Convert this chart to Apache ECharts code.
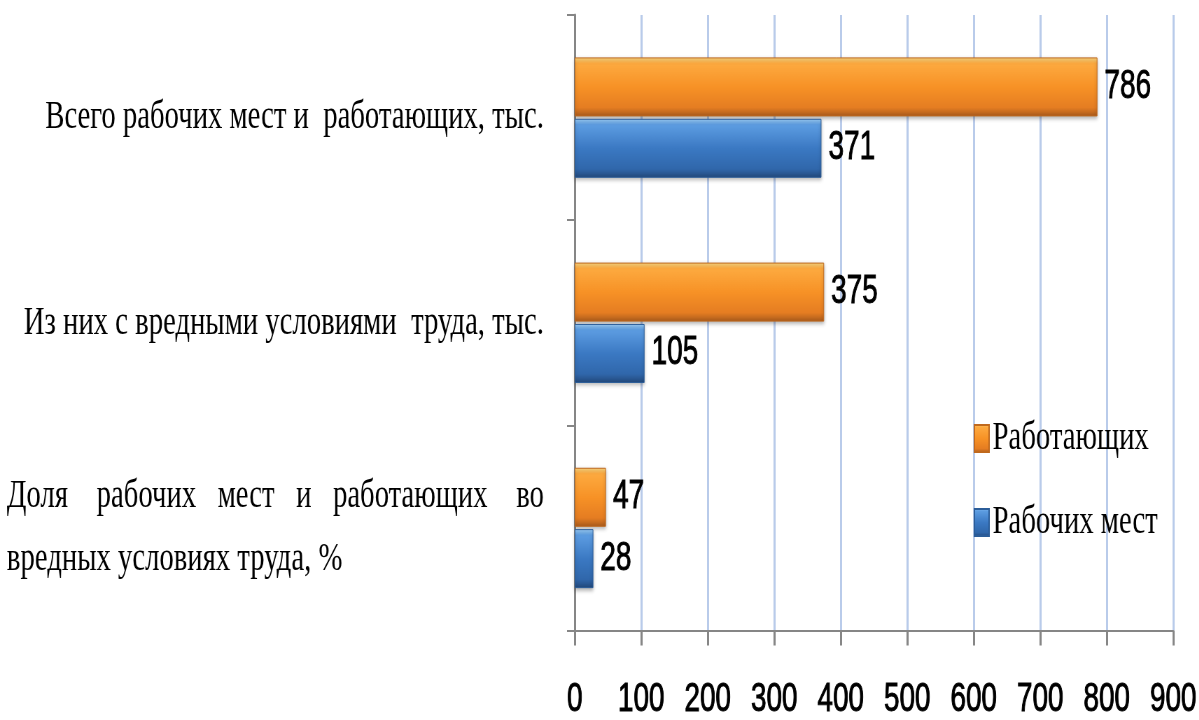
<!DOCTYPE html>
<html>
<head>
<meta charset="utf-8">
<title>Рабочие места с вредными условиями труда</title>
<script src="https://cdn.jsdelivr.net/npm/echarts@6.0.0/dist/echarts.min.js"></script>
<style>
  html, body { margin: 0; padding: 0; background: #fff; overflow: hidden; }
  /* исходная картинка сжата по горизонтали, поэтому рисуем шире и сжимаем */
  #chart {
    width: 1713px;
    height: 720px;
    transform: scaleX(0.7);
    transform-origin: 0 0;
  }
</style>
</head>
<body>
<div id="chart"></div>
<script>
// категории сверху вниз
const categories = [
  'Всего рабочих мест и  работающих, тыс.',
  'Из них с вредными условиями  труда, тыс.',
  'Доля    рабочих   мест   и   работающих    во\nвредных условиях труда, %'
]
const seriesNames = ['Работающих', 'Рабочих мест']
const workers = [786, 375, 47]
const workplaces = [371, 105, 28]
const xTicks = { min: 0, max: 900, interval: 100 }

const serifFont = '"Liberation Serif", "DejaVu Serif", serif'
const numFont = '"Liberation Sans Narrow", "Liberation Sans", Arial, sans-serif'

const orangeFill = new echarts.graphic.LinearGradient(0, 0, 0, 1, [
  { offset: 0, color: '#fddc86' },
  { offset: 0.1, color: '#fdaa40' },
  { offset: 0.5, color: '#f79226' },
  { offset: 0.85, color: '#e57d22' },
  { offset: 1, color: '#a85a1c' }
])
const blueFill = new echarts.graphic.LinearGradient(0, 0, 0, 1, [
  { offset: 0, color: '#9fd2fb' },
  { offset: 0.1, color: '#5d9de2' },
  { offset: 0.5, color: '#3b79c3' },
  { offset: 0.85, color: '#3067ab' },
  { offset: 1, color: '#22487a' }
])

const chart = echarts.init(document.getElementById('chart'))

// цифры в оригинале плотнее обычного начертания, но тоньше полужирного
const numText = {
  color: '#000',
  fontFamily: numFont,
  fontSize: 40,
  textBorderColor: '#000',
  textBorderWidth: 0.9
}

const option = {
  backgroundColor: '#fff',
  animation: false,
  grid: {
    left: 821,
    right: 37,
    top: 15,
    bottom: 83
  },
  legend: {
    orient: 'vertical',
    left: 1386,
    top: 413,
    itemGap: 43,
    itemWidth: 21,
    itemHeight: 27,
    icon: 'rect',
    data: seriesNames,
    textStyle: {
      fontFamily: serifFont,
      fontSize: 41,
      color: '#000'
    }
  },
  xAxis: {
    type: 'value',
    min: xTicks.min,
    max: xTicks.max,
    interval: xTicks.interval,
    axisLine: { show: true, lineStyle: { color: '#868686', width: 2 } },
    axisTick: { show: true, length: 15, lineStyle: { color: '#868686', width: 3 } },
    axisLabel: Object.assign({ margin: 49 }, numText),
    splitLine: { show: true, lineStyle: { color: '#b9cbea', width: 3 } }
  },
  yAxis: {
    type: 'category',
    inverse: true,
    data: categories,
    axisLine: { show: true, lineStyle: { color: '#868686', width: 3 } },
    axisTick: { show: true, length: 11, lineStyle: { color: '#868686', width: 2 } },
    axisLabel: {
      margin: 44,
      color: '#000',
      fontFamily: serifFont,
      fontSize: 41,
      formatter: (value) => {
        const lines = value.split('\n')
        if (lines.length < 2) return value
        // вторая строка прижата влево, как в выровненном по ширине абзаце
        return '{a|' + lines[0] + '}\n{b|' + lines[1] + '}'
      },
      rich: {
        a: { align: 'right', fontFamily: serifFont, fontSize: 41, color: '#000', lineHeight: 63 },
        b: { align: 'left', fontFamily: serifFont, fontSize: 41, color: '#000', lineHeight: 63 }
      }
    }
  },
  series: [
    {
      name: seriesNames[0],
      type: 'bar',
      data: workers,
      barWidth: 59,
      barGap: '4%',
      itemStyle: {
        color: orangeFill,
        borderColor: '#c0691d',
        borderWidth: 1,
        shadowColor: 'rgba(0,0,0,0.3)',
        shadowBlur: 4,
        shadowOffsetY: 2
      },
      label: Object.assign({ show: true, position: 'right', distance: 10 }, numText)
    },
    {
      name: seriesNames[1],
      type: 'bar',
      data: workplaces,
      barWidth: 59,
      barGap: '4%',
      itemStyle: {
        color: blueFill,
        borderColor: '#2b5d99',
        borderWidth: 1,
        shadowColor: 'rgba(0,0,0,0.3)',
        shadowBlur: 4,
        shadowOffsetY: 2
      },
      label: Object.assign({ show: true, position: 'right', distance: 10 }, numText)
    }
  ]
}

chart.setOption(option)
</script>
</body>
</html>
